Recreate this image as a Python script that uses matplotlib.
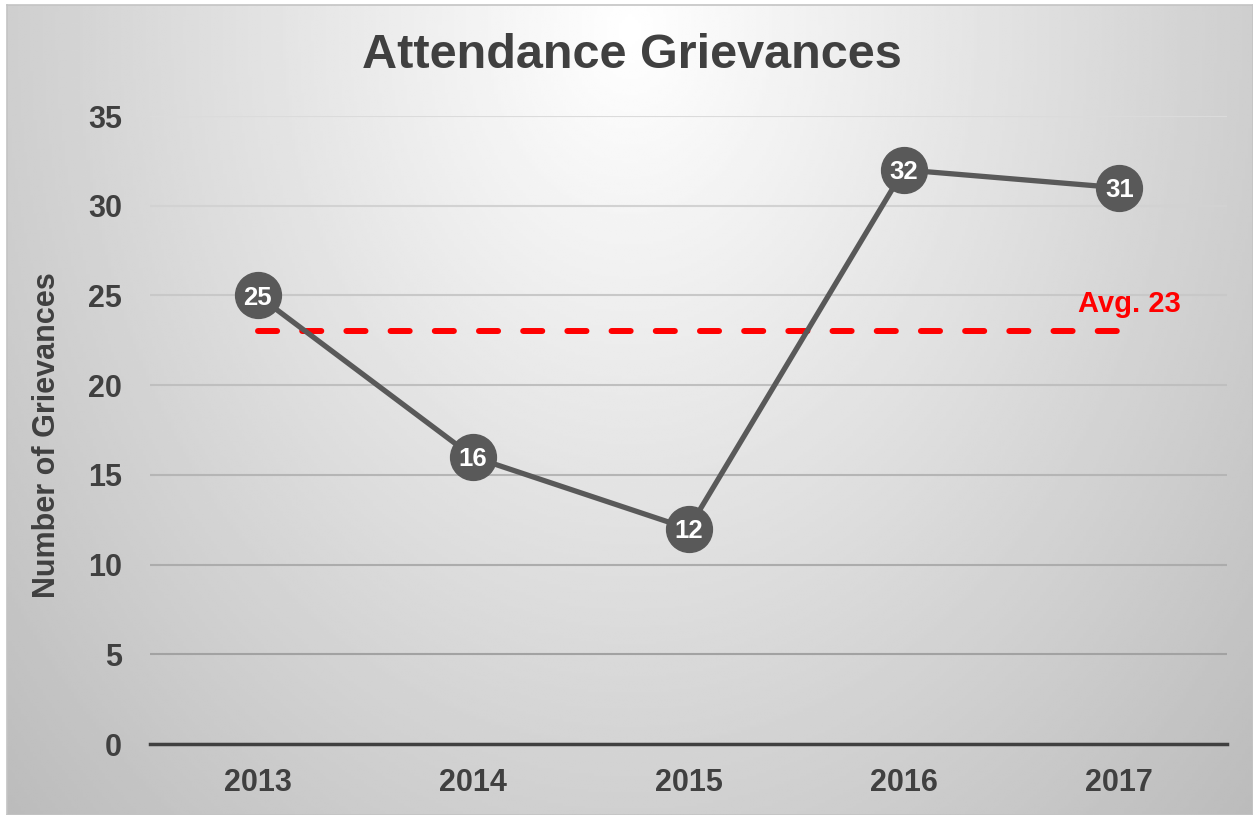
import matplotlib
matplotlib.use("Agg")
import matplotlib.pyplot as plt
import numpy as np

# data
years = ["2013", "2014", "2015", "2016", "2017"]
grievances = [25, 16, 12, 32, 31]
average = 23
yticks = [0, 5, 10, 15, 20, 25, 30, 35]

plt.rcParams['font.family'] = ['Liberation Sans', 'DejaVu Sans']
plt.rcParams['font.weight'] = 'bold'
text_col = '#404040'
line_col = '#595959'

W, H = 1253, 815
fig = plt.figure(figsize=(W / 100, H / 100), dpi=100)
fig.patch.set_facecolor('white')

# radial gradient background of the chart area
bg = fig.add_axes([7 / W, 0, 1 - 7 / W, 1 - 5 / H], zorder=0)
gx, gy = np.meshgrid(np.linspace(0, 1, 400), np.linspace(0, 1, 300))
dist = np.sqrt((gx - 0.5) ** 2 + ((gy - 0.03) * 0.5) ** 2)
shade = np.clip(1 - 0.38 * dist, 0, 1)
bg.imshow(shade, cmap='gray', vmin=0, vmax=1, aspect='auto',
          extent=[0, 1, 1, 0], interpolation='bilinear')
bg.set_xlim(0, 1)
bg.set_ylim(1, 0)
for sp in bg.spines.values():
    sp.set_color('#c4c4c4')
    sp.set_linewidth(1.2)
bg.set_xticks([])
bg.set_yticks([])

ax = fig.add_axes([150 / W, 1 - 744 / H, (1227 - 150) / W, (744 - 116) / H], zorder=1)
ax.patch.set_alpha(0)
x = np.arange(len(years))

ax.set_xlim(-0.5, len(years) - 0.5)
ax.set_ylim(0, 35)
ax.set_yticks(yticks)
ax.set_xticks(x)
ax.set_xticklabels(years)
ax.tick_params(axis='both', length=0, labelsize=22, labelcolor=text_col)
ax.tick_params(axis='y', pad=20)
ax.tick_params(axis='x', pad=17)

# gridlines, getting darker towards the bottom like the original
ax.yaxis.grid(True, linewidth=1.5)
ax.set_axisbelow(True)
for i, gl in enumerate(ax.get_ygridlines()):
    t = i / (len(yticks) - 1)
    c = 0.60 + 0.26 * t
    gl.set_color((c, c, c))
for s in ['top', 'right', 'left']:
    ax.spines[s].set_visible(False)
ax.spines['bottom'].set_color(text_col)
ax.spines['bottom'].set_linewidth(2.5)

# average line
ax.plot([x[0], x[-1]], [average, average], color='#ff0000', linewidth=4.3,
        dashes=(3.2, 4.2), dash_capstyle='round', zorder=2)
ax.annotate("Avg. " + str(average), xy=(x[-1], average), xytext=(7, 20),
            textcoords='offset points', ha='center', va='center',
            color='#ff0000', fontsize=21, fontweight='bold', zorder=3)

# series
ax.plot(x, grievances, color=line_col, linewidth=3.8, marker='o',
        markersize=33, markerfacecolor=line_col, markeredgecolor=line_col,
        clip_on=False, zorder=4)
for xi, v in zip(x, grievances):
    ax.text(xi, v, str(v), ha='center', va='center_baseline', color='white',
            fontsize=18.5, fontweight='bold', zorder=5)

fig.text(632 / W, 1 - 55 / H, "Attendance Grievances", ha='center', va='center',
         fontsize=35, fontweight='bold', color=text_col)
fig.text(47 / W, 1 - 435 / H, "Number of Grievances", ha='center', va='center',
         rotation=90, fontsize=22, fontweight='bold', color=text_col)

fig.savefig("out.png", dpi=100)
